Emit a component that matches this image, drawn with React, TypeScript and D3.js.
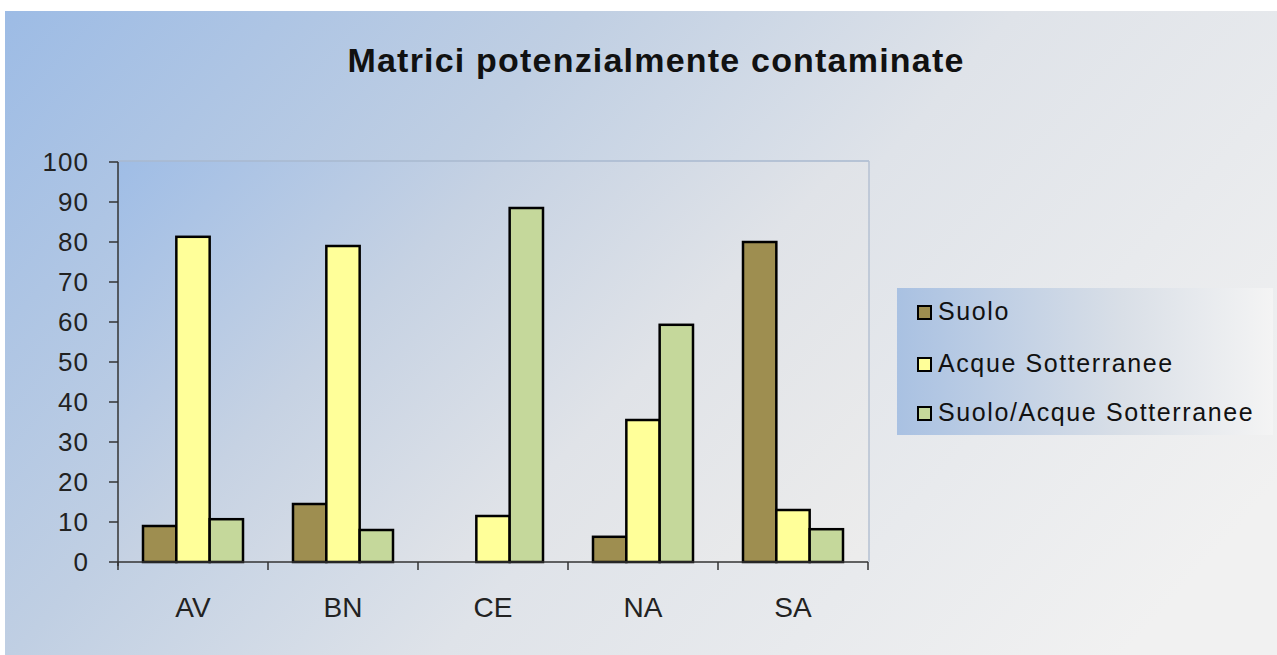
import React from "react";
import * as d3 from "d3";

const categories = ["AV", "BN", "CE", "NA", "SA"];
const seriesNames = ["Suolo", "Acque Sotterranee", "Suolo/Acque Sotterranee"];
const suolo = [9, 14.5, 0, 6.3, 80];
const acque = [81.3, 79, 11.5, 35.5, 13];
const suoloAcque = [10.7, 8, 88.5, 59.3, 8.2];
const yTicks = [0, 10, 20, 30, 40, 50, 60, 70, 80, 90, 100];
const colors = ["#9e8e50", "#ffff99", "#c5d89b"];

const FONT = "'Liberation Sans', Arial, Helvetica, sans-serif";

export default function App() {
  const W = 1277, H = 655;
  const left = 118, right = 868, top = 162, bottom = 562;
  const values = [suolo, acque, suoloAcque];

  const x = d3.scaleBand<string>().domain(categories).range([left, right]).paddingInner(0).paddingOuter(0);
  const xs = d3.scaleBand<string>().domain(seriesNames).range([0, x.bandwidth()]).paddingInner(0).paddingOuter(0.75);
  const y = d3.scaleLinear().domain([0, 100]).range([bottom, top]);

  const boundaries = categories.map((c) => x(c) as number).concat([right]);

  return (
    <svg width={W} height={H} style={{ position: "absolute", left: 0, top: 0 }} fontFamily={FONT}>
      <defs>
        <linearGradient id="bg" gradientUnits="userSpaceOnUse" x1="0" y1="0" x2="950" y2="850">
          <stop offset="0" stopColor="#9cbbe5" />
          <stop offset="0.35" stopColor="#c0cfe3" />
          <stop offset="0.6" stopColor="#dfe3e9" />
          <stop offset="1" stopColor="#f1f1f1" />
        </linearGradient>
        <linearGradient id="plotbg" gradientUnits="userSpaceOnUse" x1="118" y1="162" x2="700" y2="720">
          <stop offset="0" stopColor="#9fbde6" />
          <stop offset="0.35" stopColor="#c6d2e3" />
          <stop offset="0.65" stopColor="#e0e3e8" />
          <stop offset="1" stopColor="#ececec" />
        </linearGradient>
        <linearGradient id="legbg" x1="0" y1="0" x2="1" y2="0">
          <stop offset="0" stopColor="#a9c1e2" />
          <stop offset="0.6" stopColor="#d9dfe7" />
          <stop offset="1" stopColor="#f4f4f4" />
        </linearGradient>
      </defs>
      <rect x={0} y={0} width={W} height={H} fill="#ffffff" />
      <rect x={5} y={11} width={W - 5} height={H - 11} fill="url(#bg)" />

      <text x={656} y={72} textAnchor="middle" fontSize={34} fontWeight="bold" letterSpacing={1.2} fill="#111">
        Matrici potenzialmente contaminate
      </text>

      {/* plot area */}
      <rect x={left} y={top - 1} width={right - left + 1} height={bottom - top + 1} fill="url(#plotbg)" />
      <line x1={left} y1={top - 1} x2={right + 1} y2={top - 1} stroke="#a9b8cf" strokeWidth={1.5} />
      <line x1={right + 1} y1={top - 1} x2={right + 1} y2={bottom} stroke="#b4c0d2" strokeWidth={1.5} />

      {/* bars */}
      {categories.map((c, ci) =>
        seriesNames.map((s, si) => {
          const v = values[si][ci];
          const bx = (x(c) as number) + (xs(s) as number);
          return (
            <rect
              key={c + s}
              x={bx}
              y={y(v)}
              width={xs.bandwidth()}
              height={bottom - y(v)}
              fill={colors[si]}
              stroke="#000"
              strokeWidth={2.5}
            />
          );
        })
      )}

      {/* axes */}
      <line x1={left} y1={top} x2={left} y2={bottom + 4} stroke="#333" strokeWidth={1.5} />
      <line x1={left} y1={bottom} x2={right} y2={bottom} stroke="#333" strokeWidth={1.5} />
      {yTicks.map((t) => (
        <g key={t}>
          <line x1={left - 9} y1={y(t)} x2={left} y2={y(t)} stroke="#333" strokeWidth={1.5} />
          <text x={89} y={y(t) + 9} textAnchor="end" fontSize={26} letterSpacing={1} fill="#222">
            {t}
          </text>
        </g>
      ))}
      {boundaries.map((b, i) => (
        <line key={i} x1={b} y1={bottom} x2={b} y2={bottom + 8} stroke="#333" strokeWidth={1.5} />
      ))}
      {categories.map((c) => (
        <text key={c} x={(x(c) as number) + x.bandwidth() / 2} y={617} textAnchor="middle" fontSize={28} fill="#222">
          {c}
        </text>
      ))}

      {/* legend */}
      <rect x={897} y={288} width={376} height={147} fill="url(#legbg)" />
      {seriesNames.map((s, i) => {
        const baseY = [320, 372, 421][i];
        return (
          <g key={s}>
            <rect x={918} y={baseY - 14} width={13} height={13} fill={colors[i]} stroke="#000" strokeWidth={2} />
            <text x={938} y={baseY} fontSize={25} letterSpacing={1.6} fill="#111">
              {s}
            </text>
          </g>
        );
      })}
    </svg>
  );
}
